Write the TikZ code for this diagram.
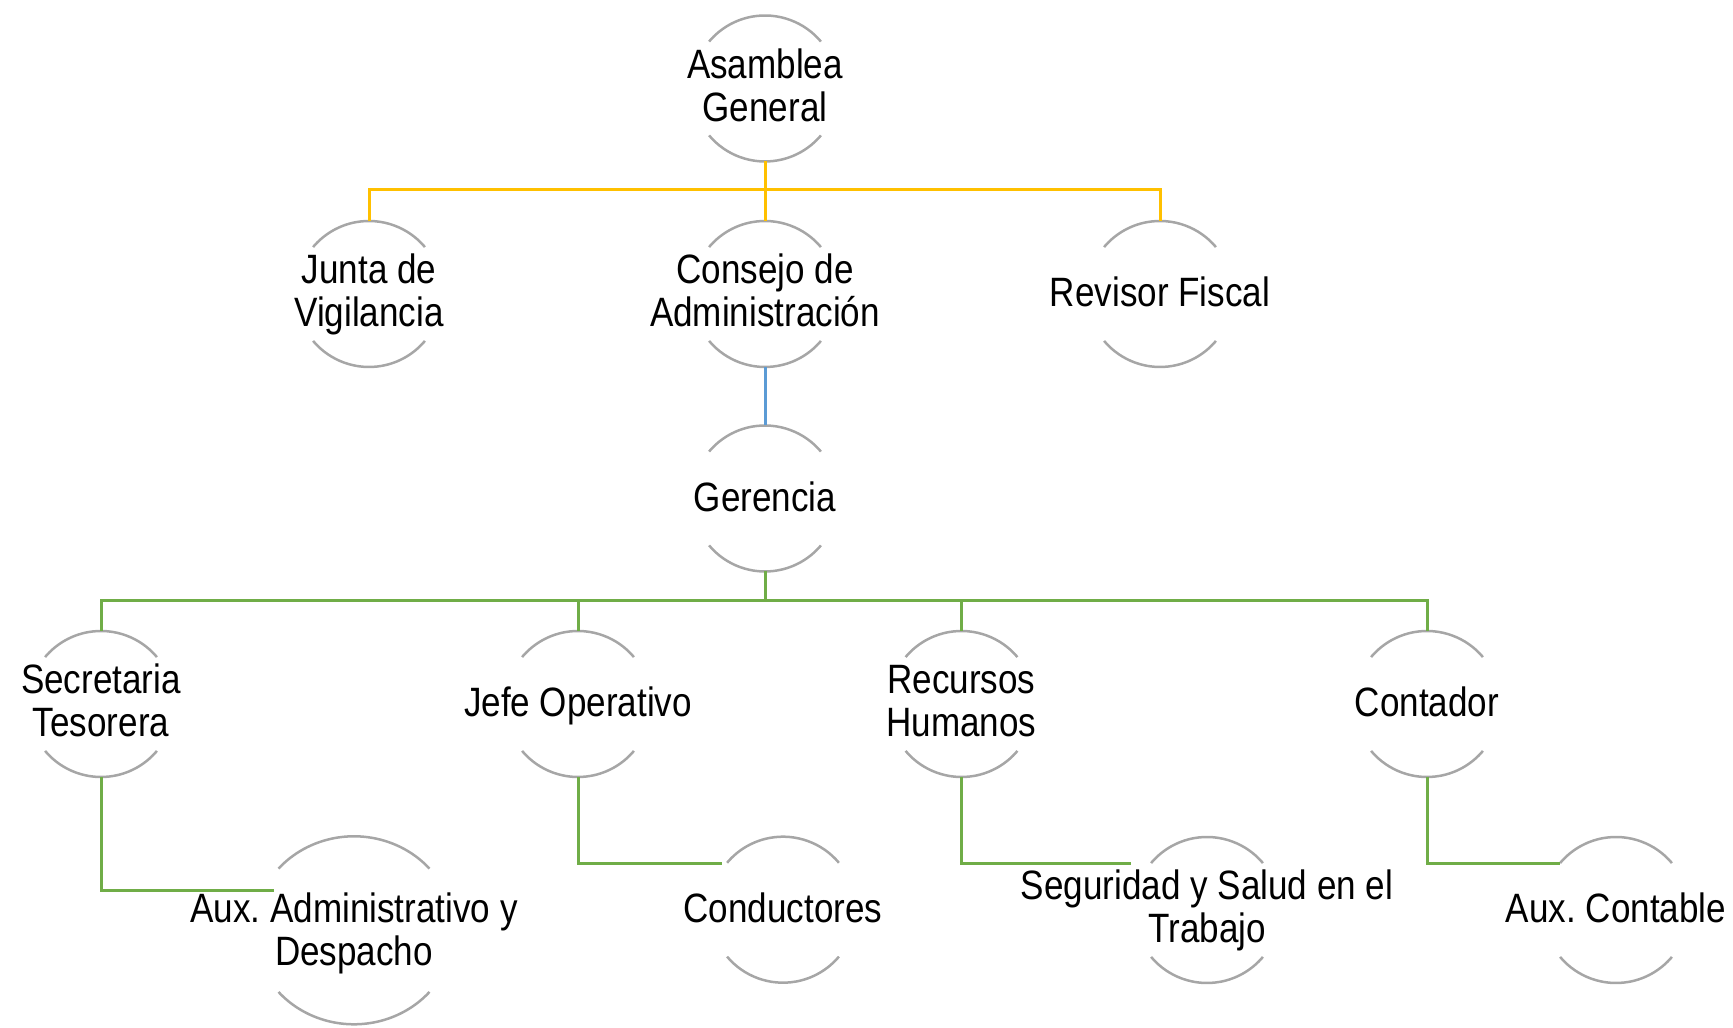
\documentclass[tikz,border=0pt]{standalone}
\usepackage{fontspec}
\setmainfont{Liberation Sans}[FakeStretch=0.855]

\definecolor{orgyellow}{HTML}{FFC000}
\definecolor{orgblue}{HTML}{5B9BD5}
\definecolor{orggreen}{HTML}{70AD47}
\definecolor{orggray}{HTML}{A6A6A6}

% strut: height 33pt, depth 7pt
\newcommand{\lblstrut}{\rule[-7pt]{0pt}{40pt}}

\tikzset{
  lbl/.style={align=center, inner sep=0pt, outer sep=0pt,
    font=\fontsize{41}{43}\selectfont\frenchspacing,
    execute at begin node=\lblstrut, execute at end node=\lblstrut},
  bubble/.style={draw=orggray, line width=2.5pt},
  yline/.style={draw=orgyellow, line width=3pt},
  bline/.style={draw=orgblue, line width=3pt},
  gline/.style={draw=orggreen, line width=3pt}
}

\begin{document}
\begin{tikzpicture}[x=1pt, y=1pt]
    \useasboundingbox (0,0) rectangle (1733,1028);

    % top levels
    \node[lbl] (ag) at (765,939.5) {Asamblea\\General};
    \node[lbl] (jv) at (369,734) {Junta de\\Vigilancia};
    \node[lbl] (ca) at (765,734) {Consejo de\\Administración};
    \node[lbl] (rf) at (1160,734) {Revisor Fiscal};
    \node[lbl] (ge) at (765,529.5) {Gerencia};

    % second level
    \node[lbl] (st) at (101,324) {Secretaria\\Tesorera};
    \node[lbl] (jo) at (578,324) {Jefe Operativo};
    \node[lbl] (rh) at (961.5,324) {Recursos\\Humanos};
    \node[lbl] (co) at (1427,324) {Contador};

    % third level
    \coordinate (aa-c) at (354,97.7);
    \node[lbl] (aa) at ([yshift=-3.5pt]aa-c) {Aux. Administrativo y\\Despacho};
    \node[lbl] (cd) at (783,118.3) {Conductores};
    \node[lbl] (ss) at (1207,118) {Seguridad y Salud en el\\Trabajo};
    \node[lbl] (ac) at (1616,118) {Aux. Contable};

    \foreach \n in {ag,jv,ca,rf,ge,st,jo,rh,co,cd,ss,ac}{
        \draw[bubble] ([shift={(40:73)}]\n.center) arc[start angle=40, end angle=140, radius=73];
        \draw[bubble] ([shift={(220:73)}]\n.center) arc[start angle=220, end angle=320, radius=73];
        \coordinate (\n-t) at ([yshift=73pt]\n.center);
        \coordinate (\n-b) at ([yshift=-73pt]\n.center);
    };
    \draw[bubble] ([shift={(41:100 and 94)}]aa-c) arc[start angle=41, end angle=139, x radius=100, y radius=94];
    \draw[bubble] ([shift={(221:100 and 94)}]aa-c) arc[start angle=221, end angle=319, x radius=100, y radius=94];

    % connector ends on the third level
    \coordinate (aa-in) at ([shift={(-80,40)}]aa-c);
    \coordinate (cd-in) at ([shift={(-61,46)}]cd.center);
    \coordinate (ss-in) at ([shift={(-76,46)}]ss.center);
    \coordinate (ac-in) at ([shift={(-56,46)}]ac.center);

    \draw[yline] (ag-b) -- ++(0,-28.5) -| (jv-t);
    \draw[yline] (ag-b) -- (ca-t);
    \draw[yline] (ag-b) -- ++(0,-28.5) -| (rf-t);

    \draw[bline] (ca-b) -- (ge-t);

    \foreach \c in {st,jo,rh,co}
        \draw[gline] (ge-b) -- ++(0,-29.5) -| (\c-t);

    \draw[gline] (st-b) |- (aa-in);
    \draw[gline] (jo-b) |- (cd-in);
    \draw[gline] (rh-b) |- (ss-in);
    \draw[gline] (co-b) |- (ac-in);
\end{tikzpicture}
\end{document}
